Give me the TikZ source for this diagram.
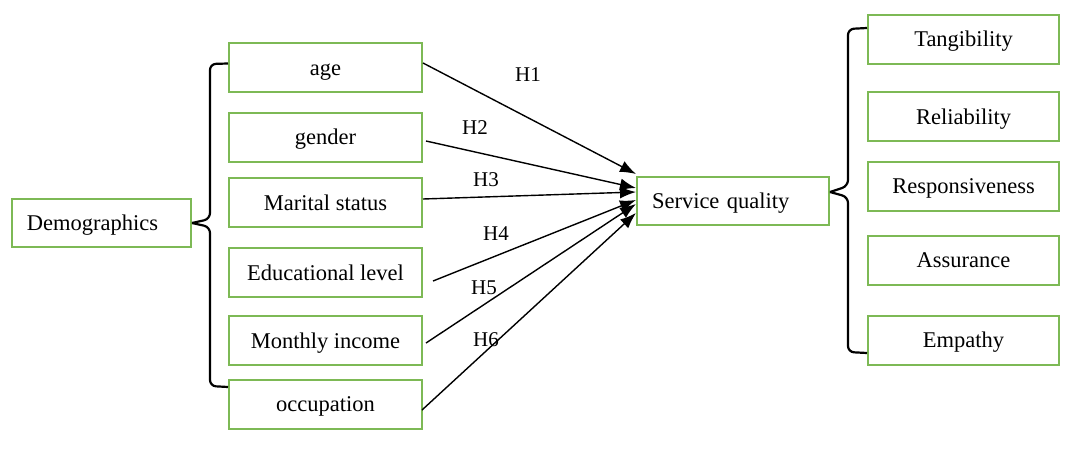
\documentclass[tikz,border=0pt]{standalone}
\usepackage{fontspec}
\setmainfont{Liberation Serif}
\usetikzlibrary{arrows.meta}
\definecolor{boxgreen}{RGB}{125,185,85}

\begin{document}
\begin{tikzpicture}[x=1pt,y=-1pt,
    var/.style={draw=boxgreen, line width=2pt, minimum width=193pt, minimum height=49pt,
        inner sep=0pt, text height=15pt, text depth=0pt, font=\fontsize{22.5}{26}\selectfont},
    dim/.style={var, minimum width=191pt},
    hyp/.style={font=\fontsize{21}{24}\selectfont},
    link/.style={line width=1.4pt, -{Latex[length=16pt,width=12pt]}},
    brace/.style={line width=2.2pt, rounded corners=6pt}]
        \useasboundingbox (0,0) rectangle (1078,450);

        % demographic variables
        \node[var, minimum width=179pt, minimum height=48pt, text width=149pt, inner xsep=15pt, align=left] (demo) at (101.5,223) {Demographics};
        \node[var] (age) at (325.5,67.5) {age};
        \node[var] (gender) at (325.5,137) {gender};
        \node[var] (marital) at (325.5,202.5) {Marital status};
        \node[var] (edu) at (325.5,272.5) {Educational level};
        \node[var] (income) at (325.5,340.5) {Monthly income};
        \node[var] (occup) at (325.5,404) {occupation};

        % service quality and its dimensions
        \node[var, minimum width=192pt, minimum height=48pt, text width=162pt, inner xsep=15pt, align=left] (sq) at (733,201) {Service quality};
        \node[dim] (tang) at (963.5,39) {Tangibility};
        \node[dim] (reli) at (963.5,116.5) {Reliability};
        \node[dim] (resp) at (963.5,186) {Responsiveness};
        \node[dim] (assu) at (963.5,260) {Assurance};
        \node[dim] (emp) at (963.5,340) {Empathy};

        % braces
        \draw[brace] ([yshift=4pt]age.west) -- (210,64) -- (210,219) -- (demo.east);
        \draw[brace] (demo.east) -- (210,227) -- (210,386) -- ([yshift=17pt]occup.west);
        \draw[brace] ([yshift=11pt]tang.west) -- (848,29) -- (848,186) -- ([yshift=9pt]sq.east);
        \draw[brace] ([yshift=9pt]sq.east) -- (848,197) -- (848,352) -- ([yshift=-13pt]emp.west);

        % hypotheses
        \draw[link] ([yshift=4.5pt]age.east) -- ([yshift=27pt]sq.west);
        \draw[link] ([xshift=3pt,yshift=-4pt]gender.east) -- ([yshift=13pt]sq.west);
        \draw[link] ([yshift=3.5pt]marital.east) -- ([yshift=9pt]sq.west);
        \draw[link] ([xshift=10pt,yshift=-8.5pt]edu.east) -- ([yshift=1pt]sq.west);
        \draw[link] ([xshift=3pt,yshift=-2.5pt]income.east) -- ([yshift=-3pt]sq.west);
        \draw[link] ([xshift=-1pt,yshift=-6pt]occup.east) -- ([yshift=-12pt]sq.west);

        \node[hyp] (h1) at (528,75) {H1};
        \node[hyp] (h2) at (475,128) {H2};
        \node[hyp] (h3) at (486,180) {H3};
        \node[hyp] (h4) at (496,234) {H4};
        \node[hyp] (h5) at (484,288) {H5};
        \node[hyp] (h6) at (486,340) {H6};
    \end{tikzpicture}
\end{document}
